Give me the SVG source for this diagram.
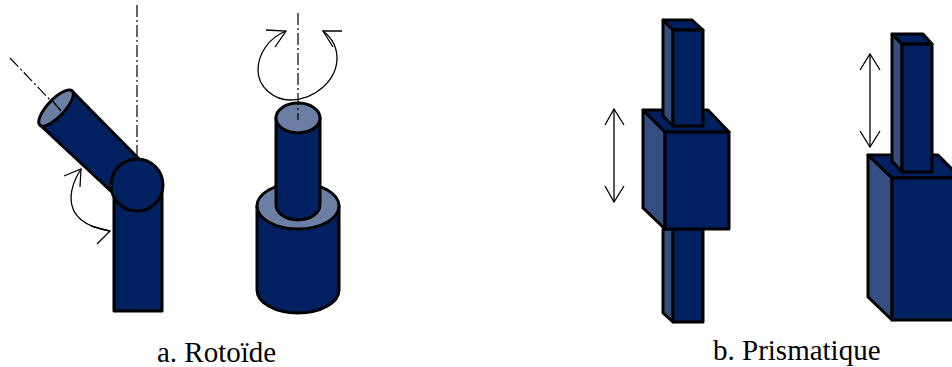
<svg xmlns="http://www.w3.org/2000/svg" width="952" height="367" viewBox="0 0 952 367">
<style>
.b{fill:#002060;stroke:#000;stroke-width:3;stroke-linejoin:round}
.s{fill:#344e80;stroke:#000;stroke-width:3;stroke-linejoin:round}
.c{fill:#6b7fa5;stroke:#000;stroke-width:3;stroke-linejoin:round}
.a{fill:none;stroke:#000;stroke-width:1.3}
.d{fill:none;stroke:#000;stroke-width:1.2;stroke-dasharray:12 3 2 3}
text{font-family:"Liberation Serif","Times New Roman",serif;font-size:29px;fill:#000}
</style>
<rect width="952" height="367" fill="#fff"/>
<g id="rotoide-a">
<rect class="b" x="114" y="180" width="48" height="131"/>
<path class="b" d="M40,125 L72,91 L142,162 L114,194 Z"/>
<ellipse class="c" cx="56" cy="108" rx="23.5" ry="8.5" transform="rotate(-46.7 56 108)"/>
<circle class="b" cx="137" cy="185" r="26"/>
</g>
<g id="rotoide-b">
<path class="b" d="M257,206 V290 A41,23 0 0 0 339,290 V206 Z"/>
<ellipse class="c" cx="298" cy="206" rx="41" ry="23"/>
<path class="b" d="M276,118 V205 A22,15 0 0 0 320,205 V118 Z"/>
<ellipse class="c" cx="298" cy="118" rx="22" ry="15"/>
</g>
<g id="prismatique-a">
<path class="s" d="M663,229 V313 L673,322 V229 Z"/>
<rect class="b" x="673" y="229" width="30" height="93"/>
<path class="s" d="M643,110 L665,132 V229 L643,208 Z"/>
<path class="b" d="M643,110 H708 L729,132 H665 Z"/>
<path class="s" d="M663,20 L673,30 V126 L663,116 Z"/>
<path class="b" d="M663,20 H692 L703,30 H673 Z"/>
<rect class="b" x="673" y="30" width="30" height="96"/>
<rect class="b" x="665" y="132" width="64" height="97"/>
</g>
<g id="prismatique-b">
<path class="s" d="M868,155 L892,178 V320 L868,297 Z"/>
<path class="b" d="M868,155 H938 L961,178 H892 Z"/>
<rect class="b" x="892" y="178" width="70" height="142"/>
<path class="s" d="M892,34 L902,44 V172 L892,161 Z"/>
<path class="b" d="M892,34 H923 L932,44 H902 Z"/>
<rect class="b" x="902" y="44" width="30" height="128"/>
</g>
<g id="connectors">
<path class="d" d="M137,5 V158"/>
<path class="d" d="M10,58 L52,102"/>
<path class="d" d="M298,13 V120"/>
<path class="a" d="M51,99 L61,111"/>
<path class="a" d="M81,169 C74,180 71,190 71,198 C71,212 80,226 110,231"/>
<path class="a" d="M64,176 L81,169 L80,187"/>
<path class="a" d="M91,226 L110,231 L97,244"/>
<path class="a" d="M286,31 C268,38 258,55 258,70 C258,88 275,100 290,100 C315,100 337,80 337,58 C337,47 332,38 323,31"/>
<path class="a" d="M266,30 L286,31 L275,47"/>
<path class="a" d="M342,31 L323,31 L333,47"/>
<path class="a" d="M614,109 V202"/>
<path class="a" d="M605,125 L614,109 L624,125"/>
<path class="a" d="M605,186 L614,202 L624,186"/>
<path class="a" d="M870,54 V147"/>
<path class="a" d="M860,70 L870,54 L880,70"/>
<path class="a" d="M860,131 L870,147 L880,131"/>
</g>
<text x="157" y="362">a. Rotoïde</text>
<text x="713" y="360">b. Prismatique</text>
</svg>
